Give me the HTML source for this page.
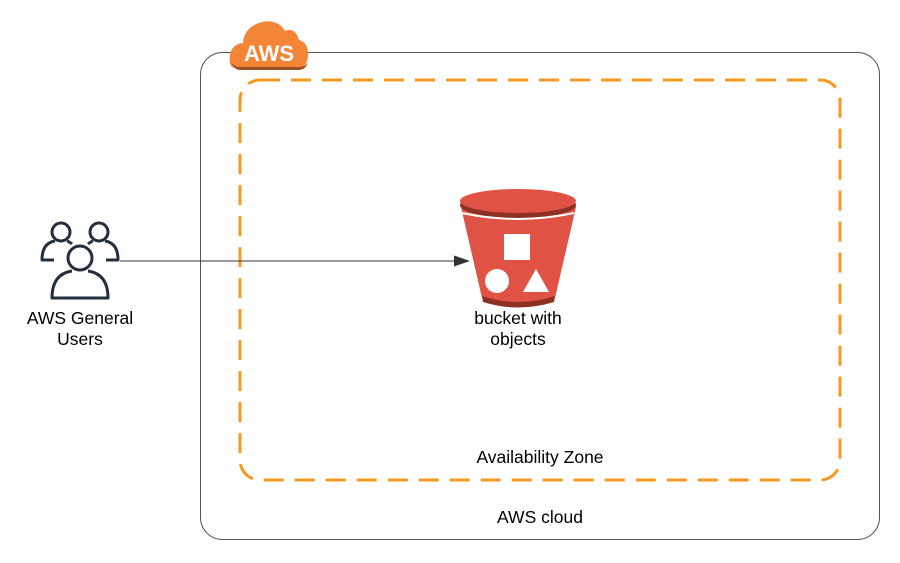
<!DOCTYPE html>
<html><head><style>body{margin:0;background:#fff}svg{display:block}text{font-family:"Liberation Sans",sans-serif;font-size:17.5px;fill:#000}</style></head><body>
<svg width="900" height="563" viewBox="0 0 900 563">
<rect x="200.5" y="52.5" width="679" height="487" rx="22" fill="none" stroke="#555" stroke-width="1"/>
<rect x="240" y="80" width="600" height="400" rx="20" fill="none" stroke="#F7981F" stroke-width="3" stroke-dasharray="20 11"/>
<g>
<path d="M236 68 Q228 68 230 55 Q232 44 243 43 Q244 27 262 22 Q278 19 285 31 Q295 27 299 40 Q309 43 308 56 Q307 68 298 68 Z" fill="#F58536"/>
<path d="M231 62 Q234 70 240 70 L298 70 Q306 70 308 62 Q306 67 298 67 L240 67 Q234 67 231 62Z" fill="#9D5025"/>
<text x="269" y="61" text-anchor="middle" style="font-size:22px;font-weight:bold;fill:#fff">AWS</text>
</g>
<text x="540" y="523" text-anchor="middle">AWS cloud</text>
<text x="540" y="463" text-anchor="middle">Availability Zone</text>
<path d="M461 207 L482 298 Q518 310 555 298 L576 207 Z" fill="#E05243"/>
<path d="M482 296 Q518 308 555 296 L554 302 Q518 313 483 302 Z" fill="#8C3123"/>
<ellipse cx="518" cy="205" rx="58" ry="13" fill="#8C3123"/>
<ellipse cx="518" cy="201" rx="58" ry="12" fill="#E05243"/>
<path d="M462 213 Q518 225 574 213" fill="none" stroke="#fff" stroke-width="2"/>
<rect x="504" y="234" width="26" height="26" fill="#fff"/>
<circle cx="497" cy="281" r="12" fill="#fff"/>
<polygon points="536,269 549,292 523,292" fill="#fff"/>
<text x="518" y="324" text-anchor="middle">bucket with</text>
<text x="518" y="345" text-anchor="middle">objects</text>
<g fill="none" stroke="#232F3E" stroke-width="3" stroke-linejoin="round">
<circle cx="61" cy="232" r="9"/>
<circle cx="99" cy="232" r="9"/>
<path d="M54 260 L42 260 Q42 243 55 241 M67 241 Q70 242 72 244"/>
<path d="M106 260 L118 260 Q118 243 105 241 M93 241 Q90 242 88 244"/>
<circle cx="80" cy="258" r="12"/>
<path d="M72 271 Q52 274 52 298 L108 298 Q108 274 88 271"/>
</g>
<text x="80" y="324" text-anchor="middle">AWS General</text>
<text x="80" y="345" text-anchor="middle">Users</text>
<line x1="120" y1="261" x2="456" y2="261" stroke="#333" stroke-width="1"/>
<polygon points="470,261 454,255.5 454,266.5" fill="#333"/>
</svg>
</body></html>
